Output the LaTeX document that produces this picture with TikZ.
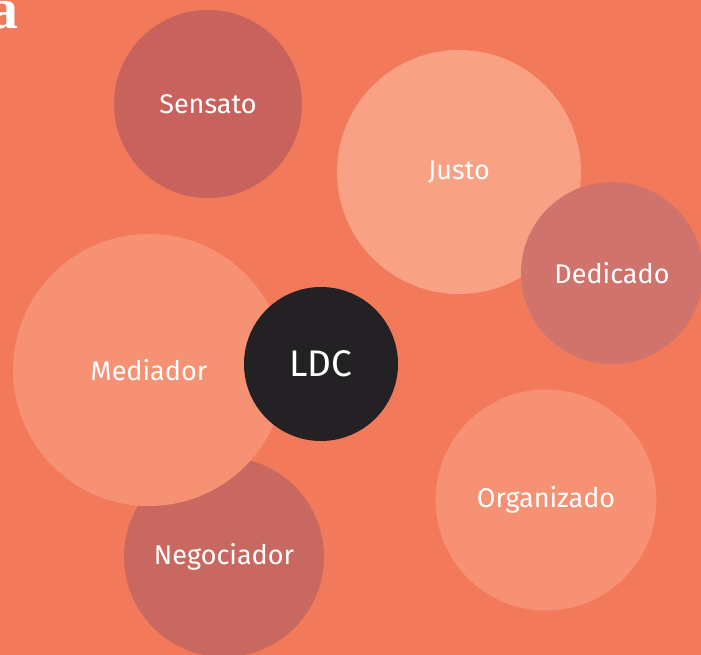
\documentclass[tikz,border=0pt]{standalone}
\usepackage{fontspec}
\setmainfont{Fira Sans}
\newfontfamily\serifbold{Liberation Serif}
\definecolor{bgorange}{HTML}{F27A5A}
\definecolor{darkrose}{HTML}{C8625C}
\definecolor{midrose}{HTML}{D0736C}
\definecolor{negrose}{HTML}{C86860}
\definecolor{lightsal}{HTML}{F8A185}
\definecolor{salmon}{HTML}{F69273}
\definecolor{inkblack}{HTML}{232123}
\tikzset{bubble/.style={circle, inner sep=0pt, text=white, font=\fontsize{27}{30}\selectfont}}
\begin{document}
\begin{tikzpicture}[x=1pt, y=-1pt]
    \fill[bgorange] (0,0) rectangle (701,655);
    \useasboundingbox (0,0) rectangle (701,655);
    \clip (0,0) rectangle (701,655);
    \node[anchor=base east, inner sep=0pt, text=white, font=\serifbold\bfseries\fontsize{58}{58}\selectfont] (lttr) at (19,29) {a};
    \node[bubble, fill=darkrose, minimum size=188pt] (sens) at (208,104) {Sensato};
    \node[bubble, fill=lightsal, minimum size=244pt] (just) at (459,172) {Justo};
    \node[bubble, fill=midrose, minimum size=182pt] (dedi) at (612,273) {Dedicado};
    \node[bubble, fill=negrose, minimum size=200pt] (nego) at (224,557) {Negociador};
    \node[bubble, fill=salmon, minimum size=272pt] (medi) at (149,370) {Mediador};
    \node[bubble, fill=salmon, minimum size=221pt] (orga) at (546,500) {Organizado};
    \node[bubble, fill=inkblack, minimum size=154pt, font=\fontsize{37}{40}\selectfont] (ldc) at (321,364) {LDC};
\end{tikzpicture}
\end{document}
